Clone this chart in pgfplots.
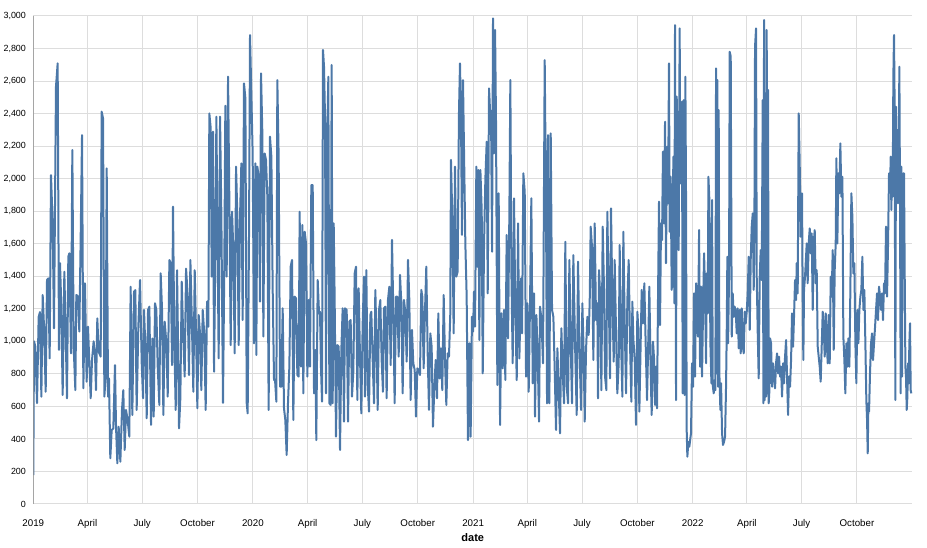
\documentclass[border=0pt]{standalone}
\usepackage{fontspec}
\setmainfont{Liberation Sans}
\usepackage{pgfplots}
\pgfplotsset{compat=1.18}
\definecolor{vblue}{HTML}{4C78A8}
\definecolor{vgrid}{HTML}{DDDDDD}
\definecolor{vaxis}{HTML}{888888}
\begin{document}
\begin{tikzpicture}
\useasboundingbox (-24.975pt,-33pt) rectangle (670.275pt,378pt);
\begin{axis}[
  at={(0,0)}, anchor=south west,
  scale only axis, width=659.25pt, height=366pt,
  xmin=0, xmax=1461, ymin=0, ymax=3000,
  axis line style={draw=none},
  tick style={draw=none},
  grid=major, grid style={vgrid, line width=0.75pt},
  xtick={0,90,181,273,365,456,547,639,731,821,912,1004,1096,1186,1277,1369},
  xticklabels={2019,April,July,October,2020,April,July,October,2021,April,July,October,2022,April,July,October},
  ytick={0,200,400,600,800,1000,1200,1400,1600,1800,2000,2200,2400,2600,2800,3000},
  /pgf/number format/assume math mode=true,
  /pgf/number format/1000 sep={,},
  yticklabel style={font=\fontsize{6.7}{8}\selectfont, xshift=-2pt},
  xticklabel style={font=\fontsize{7.3}{8}\selectfont, anchor=north, yshift=-8.3pt},
  xlabel={date},
  xlabel style={font=\bfseries\fontsize{8.25}{9}\selectfont, at={(axis description cs:0.5,0)}, anchor=center, yshift=-25.5pt},
]
\addplot[vblue, line width=1.5pt, line join=round, no markers] coordinates {
(0,178)(1.2,1000)(3.4,967)(6.2,620)(8.9,1150)(11.1,1180)(13.4,660)(15.6,1285)(17.8,1090)(20.6,690)(22.8,1377)(25.0,1387)(27.2,895)(29.4,2022)(32.2,1725)(34.4,1080)(37.7,2565)(40.5,2709)(42.7,947)(44.4,1480)(46.6,1213)(48.8,670)(51.6,1428)(53.8,1049)(56.0,650)(58.2,1520)(59.9,1541)(62.7,926)(64.9,2176)(67.1,967)(69.9,700)(71.5,1285)(74.3,1275)(76.5,1060)(78.7,1623)(81.0,2268)(83.2,711)(85.9,1357)(88.7,752)(90.9,1090)(93.1,875)(95.4,650)(97.6,885)(100.3,1000)(102.6,916)(104.2,700)(106.4,1141)(108.7,936)(112.0,906)(113.6,2412)(115.9,2371)(118.1,660)(120.3,783)(122.0,2063)(124.2,660)(125.8,772)(128.0,281)(130.3,455)(133.0,465)(135.8,854)(137.5,475)(139.7,250)(141.9,475)(144.7,260)(147.4,578)(149.6,700)(151.9,332)(154.1,578)(156.8,516)(159.6,414)(161.8,1336)(164.6,547)(167.4,1305)(169.6,1315)(171.8,578)(174.6,1090)
(177.4,1377)(180.2,865)(182.4,650)(184.0,1193)(186.3,967)(188.5,527)(190.7,1193)(192.9,1213)(195.7,486)(197.9,1018)(200.1,537)(202.3,1234)(204.5,1193)(206.8,844)(209.5,609)(211.7,1418)(214.0,1193)(216.2,547)(218.4,1121)(221.2,988)(223.4,660)(226.2,1500)(228.4,1480)(230.6,854)(232.2,1828)(234.5,977)(236.7,578)(238.9,1437)(240.6,988)(242.2,465)(244.4,650)(246.7,1367)(248.9,1070)(251.6,783)(253.9,1447)(256.1,1316)(258.8,793)(261.1,1500)(263.3,1162)(266.0,690)(268.3,1437)(270.5,1049)(272.7,588)(274.9,1162)(277.1,1049)(279.3,700)(281.6,1193)(284.3,1039)(286.5,578)(288.8,1244)(291.0,1090)(292.6,2401)(294.9,2309)(296.5,1398)(298.7,2289)(300.4,813)(302.6,1561)(304.3,2381)(305.9,1766)(308.1,895)(310.4,2381)(312.6,1766)(315.3,621)(317.6,1520)(319.2,2448)(321.4,1398)(323.7,2627)(325.9,1848)(328.1,977)(330.3,1797)(332.5,1561)(334.7,926)(337.0,2074)(339.2,1766)(341.4,977)(343.6,1766)(345.8,2094)(348.0,1131)(350.2,2586)(352.5,2494)(354.7,621)(356.3,557)(358.6,1684)
(360.2,2883)(364.6,2155)(366.8,988)(369.1,2094)(370.7,916)(372.4,2074)(374.6,2012)(376.8,1244)(378.5,2647)(380.7,2278)(382.4,1029)(384.6,2155)(386.8,2115)(389.0,1889)(391.2,578)(393.4,2258)(395.7,2135)(397.9,1316)(400.1,762)(401.8,762)(404.0,629)(405.6,2606)(407.8,2135)(410.1,721)(412.3,721)(414.5,1203)(416.7,588)(418.9,516)(421.1,301)(423.4,629)(425.6,844)(427.8,1459)(430.0,1500)(432.2,516)(434.4,1275)(436.7,1264)(438.9,793)(441.1,783)(442.7,1797)(445.0,844)(447.2,1715)(448.8,680)(451.1,1674)(453.3,1602)(455.5,783)(457.7,1254)(459.9,844)(462.1,1961)(464.4,1961)(466.6,680)(468.8,947)(470.4,393)(472.7,1377)(474.9,1172)(476.5,1182)(478.2,834)(479.9,629)(481.5,2791)(483.2,2688)(484.9,2371)(486.5,680)(488.2,2186)(490.4,2627)(492.1,619)(494.3,609)(495.9,2699)(497.6,619)(499.3,1725)(500.9,1254)(503.1,414)(505.4,977)(507.6,967)(509.8,332)(512.0,947)(514.2,1203)(516.4,506)(518.1,1203)(520.9,1193)(523.1,506)(525.3,1121)(527.5,1131)(529.7,660)(531.9,813)(534.2,1418)(536.4,1459)(538.6,639)(540.8,1326)
(543.0,906)(545.2,557)(547.4,1100)(549.6,1398)(551.3,660)(553.5,1438)(555.7,742)(558.0,568)(560.2,1162)(561.8,1182)(564.1,885)(566.3,619)(568.5,1316)(570.7,967)(572.4,578)(574.6,1193)(576.8,1254)(579.0,885)(581.2,690)(582.9,1203)(585.1,1213)(587.3,650)(589.5,1254)(591.8,1336)(594.0,854)(596.2,1623)(598.4,1182)(600.6,619)(602.8,1275)(605.0,1275)(607.3,906)(609.5,1408)(611.7,1234)(613.9,680)(616.1,1254)(618.3,1182)(620.6,875)(622.8,1500)(625.0,1254)(627.2,639)(629.4,1070)(631.6,865)(633.9,824)(636.1,537)(638.3,834)(640.5,824)(642.7,793)(644.9,1316)(646.6,1275)(648.8,834)(651.0,1182)(653.2,1459)(655.5,926)(657.7,578)(659.9,1049)(662.1,967)(664.3,475)(666.5,711)(668.8,885)(671.0,650)(673.2,1172)(675.4,772)(677.6,957)(679.8,700)(682.1,1285)(684.3,885)(686.5,609)(688.7,926)(690.9,906)(693.1,1172)(694.2,2115)(696.5,1746)(698.7,1049)(700.9,2074)(703.1,1398)(705.3,1428)(707.5,2401)(709.2,2709)(710.9,2371)(712.5,1654)(714.2,2606)(715.8,2196)(718.1,1602)(720.3,1275)(722.5,393)(724.7,988)(726.9,414)(729.1,1151)
(730.9,1060)(732.5,1305)(734.2,1090)(736.4,2074)(738.1,1459)(739.8,2053)(741.4,1008)(743.1,2053)(745.3,1807)(747.0,803)(749.2,1602)(751.4,2002)(753.6,2227)(755.3,1295)(757.5,2555)(759.1,2422)(760.8,2412)(762.5,1551)(764.1,2985)(765.8,2155)(767.5,2914)(769.1,2340)(771.3,731)(773.5,1910)(775.8,486)(778.0,1172)(780.2,834)(782.4,1193)(784.6,762)(786.8,1654)(789.1,1018)(791.3,1797)(792.9,2606)(794.6,1438)(796.8,865)(799.0,1879)(801.2,1193)(803.5,762)(805.7,1725)(807.9,895)(810.7,1387)(812.3,1049)(814.5,2033)(816.8,1920)(819.0,783)(821.2,1234)(823.4,690)(825.6,1234)(827.8,1879)(830.1,742)(832.3,1295)(833.9,537)(836.2,1162)(838.4,895)(840.6,506)(842.2,1213)(844.5,1141)(847.2,865)(850.0,2729)(852.2,1807)(853.9,619)(855.5,2268)(857.8,619)(860.0,2278)(862.2,1193)(864.4,1151)(866.6,834)(868.8,455)(871.1,957)(873.3,690)(875.5,434)(877.7,1080)(879.9,813)(882.1,619)(884.3,1612)(886.6,721)(888.8,619)(891.0,1500)(893.2,988)(895.4,619)(897.6,1530)(900.4,988)(903.2,547)(905.4,1490)(907.6,988)
(910.4,578)(912.6,1234)(914.8,926)(916.5,506)(918.7,947)(920.9,1151)(923.1,1039)(924.8,1244)(926.4,1705)(928.6,1582)(930.9,885)(933.1,1725)(935.3,1131)(937.5,1234)(938.6,650)(940.3,1438)(942.5,1254)(944.2,700)(946.4,1705)(948.6,1316)(950.3,783)(952.5,700)(954.1,1797)(956.3,1316)(958.6,772)(960.2,1818)(962.4,1275)(964.7,875)(966.3,1500)(968.5,1070)(970.7,680)(973.0,865)(974.6,1592)(976.8,1018)(979.1,660)(980.7,1674)(982.9,1131)(985.2,680)(987.4,1254)(989.6,1500)(991.8,988)(994.0,629)(995.7,1244)(997.3,1018)(999.6,885)(1001.8,486)(1004.0,1182)(1005.7,1070)(1007.3,568)(1009.5,988)(1011.2,1316)(1013.4,1110)(1015.6,1357)(1017.8,988)(1020.1,639)(1022.3,1029)(1023.9,1336)(1026.2,803)(1027.8,547)(1030.0,998)(1031.7,895)(1033.4,609)(1035.0,844)(1036.7,588)(1038.3,1254)(1040.0,1859)(1041.7,1100)(1043.3,1725)(1045.0,1623)(1046.6,2166)(1048.3,1725)(1050.0,2350)(1051.6,1480)(1053.3,2196)(1055.0,1848)(1056.6,2709)(1057.7,1674)(1059.4,2012)(1061.1,1316)(1062.7,1551)(1063.8,2135)(1065.5,1234)(1066.6,2944)(1068.3,639)(1069.4,2504)(1071.0,2217)(1072.7,1561)(1074.3,2924)(1075.5,1971)(1076.6,2217)(1078.2,2473)(1079.3,680)(1081.0,2483)(1082.7,670)(1083.8,2627)(1084.9,1889)(1086.0,455)(1087.1,291)(1088.8,383)(1090.4,352)(1092.1,404)(1093.2,434)
(1094.9,865)(1096.6,721)(1098.2,1295)(1099.9,783)(1101.6,1357)(1103.2,1295)(1104.9,1029)(1106.6,1684)(1108.2,844)(1109.9,1336)(1111.5,783)(1113.2,1193)(1114.9,1541)(1116.5,1295)(1118.2,865)(1119.3,1418)(1121.0,1172)(1122.1,2012)(1123.7,1869)(1125.4,988)(1127.1,742)(1128.2,1869)(1129.3,731)(1130.9,680)(1132.6,762)(1133.7,700)(1134.8,2678)(1135.9,803)(1137.0,2606)(1138.1,721)(1139.2,2422)(1140.4,793)(1142.0,578)(1143.1,742)(1144.8,434)(1146.4,363)(1148.1,383)(1149.8,414)(1151.4,721)(1152.5,1039)(1153.6,1520)(1154.8,988)(1156.4,1398)(1157.5,2780)(1159.2,2750)(1160.9,1029)(1162.5,1295)(1164.2,1151)(1165.8,1213)(1167.5,1182)(1169.2,1049)(1170.8,1203)(1172.5,957)(1174.1,1193)(1175.8,926)(1177.5,1203)(1179.1,977)(1180.8,926)(1182.5,1182)(1184.1,1110)(1185.8,1182)(1187.4,1295)(1189.1,1520)(1190.8,1070)(1192.4,1500)(1194.1,1705)(1195.8,1787)(1197.4,1316)(1198.5,1674)(1199.6,2811)(1201.3,2924)(1202.4,1398)(1204.1,1049)(1205.7,772)(1207.4,1398)(1209.0,1561)(1210.7,1377)(1212.4,2483)(1213.5,619)(1214.6,2975)(1215.7,639)(1216.8,2524)(1217.9,660)(1219.0,2914)(1220.1,680)(1221.2,2545)(1222.3,619)(1223.5,700)(1224.6,1018)(1226.2,988)(1227.9,721)(1229.5,865)(1231.2,783)(1232.9,711)(1234.5,865)(1236.2,926)(1237.9,803)(1239.5,906)(1241.2,783)(1242.8,844)(1244.5,660)(1246.2,865)(1247.8,742)(1249.5,906)(1251.2,1008)(1252.8,783)(1254.5,547)(1256.1,783)(1257.8,721)(1259.5,885)(1261.1,1172)(1262.8,967)(1264.4,1151)(1266.1,1377)(1267.8,1254)(1268.9,1480)(1270.5,1295)(1272.2,2401)(1273.9,2074)(1275.5,1643)
(1277.7,1910)(1278.8,1275)(1279.9,885)(1281.0,1316)(1282.7,1398)(1284.4,1520)(1285.5,1602)(1287.1,1357)(1288.8,1602)(1290.5,1694)(1292.1,1541)(1293.8,1664)(1295.5,1193)(1297.1,1602)(1298.8,1684)(1300.4,1357)(1302.1,1438)(1303.8,967)(1305.4,906)(1307.1,844)(1308.7,752)(1310.4,967)(1312.1,1182)(1313.7,1090)(1315.4,906)(1317.1,1172)(1318.7,1008)(1320.4,865)(1322.0,1162)(1323.7,865)(1325.4,1398)(1327.0,1275)(1328.7,1561)(1330.4,947)(1332.0,1438)(1333.7,1602)(1334.8,2125)(1336.4,1602)(1338.1,2033)(1339.8,1910)(1341.4,2217)(1343.1,1889)(1344.8,2012)(1346.4,1029)(1348.1,885)(1349.7,680)(1351.4,988)(1353.1,844)(1354.7,1018)(1356.4,844)(1358.1,1336)(1359.7,1910)(1361.4,1766)(1363.0,1418)(1364.7,1480)(1366.4,988)(1368.0,742)(1369.7,1193)(1371.4,988)(1373.0,1193)(1374.7,1275)(1376.3,1316)(1378.0,1520)(1379.7,1193)(1381.3,1316)(1383.0,988)(1384.6,639)(1385.8,516)(1386.9,311)(1388.0,619)(1389.1,568)(1390.7,803)(1392.4,988)(1394.1,1049)(1395.7,885)(1397.4,988)(1399.1,1090)(1400.7,1193)(1402.4,1295)(1404.0,1131)(1405.7,1336)(1407.4,1275)(1409.0,1193)(1410.7,1295)(1412.3,1131)(1414.0,1357)(1415.7,1295)(1417.3,1705)(1419.0,1275)(1420.7,1602)(1422.3,2033)(1424.0,1930)(1425.1,2135)(1426.2,1807)(1427.3,2115)(1428.4,1889)(1429.5,2627)(1430.6,2883)(1431.7,2422)(1432.8,639)(1433.9,2442)(1435.1,1992)(1436.2,2299)(1437.3,1848)(1438.4,2155)(1439.5,2688)(1440.6,1807)(1441.7,680)(1442.8,2074)(1443.9,783)(1445.0,1971)(1446.1,2033)(1447.2,2033)(1448.4,1398)(1449.5,844)(1450.6,772)(1451.7,578)(1452.8,660)(1453.9,865)(1455.0,742)(1456.1,988)(1457.2,1111)(1458.3,700)(1459.4,680)
};
\draw[vaxis, line width=0.75pt] (axis cs:0,0) -- (axis cs:0,3000);
\pgfplotsinvokeforeach{0,200,400,600,800,1000,1200,1400,1600,1800,2000,2200,2400,2600,2800,3000}{
  \draw[vaxis, line width=0.75pt] (axis cs:0,#1) -- ++(-3.75pt,0);
}
\draw[vaxis, line width=0.75pt] (axis cs:0,0) ++(0,-5.25pt) -- ++(659.25pt,0);
\pgfplotsinvokeforeach{0,90,181,273,365,456,547,639,731,821,912,1004,1096,1186,1277,1369}{
  \draw[vaxis, line width=0.75pt] (axis cs:#1,0) ++(0,-5.25pt) -- ++(0,-3.75pt);
}
\end{axis}
\end{tikzpicture}
\end{document}
